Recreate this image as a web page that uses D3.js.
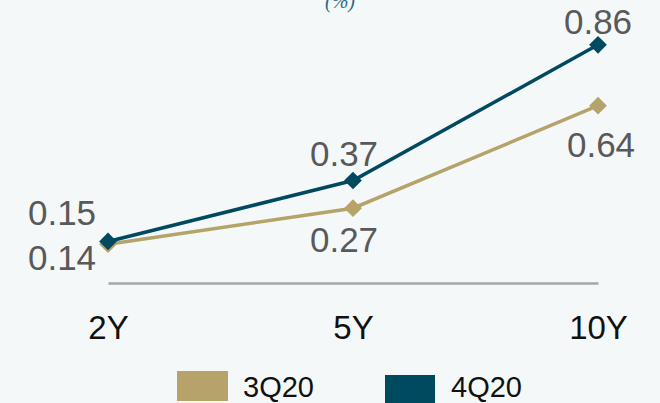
<!DOCTYPE html>
<html>
<head>
<meta charset="utf-8">
<script src="https://cdn.jsdelivr.net/npm/d3@7"></script>
<style>
  html, body { margin: 0; padding: 0; background: #f4f8f9; }
  svg { display: block; font-family: "Liberation Sans", Arial, sans-serif; }
</style>
</head>
<body>
<script>
// data
var categories = ["2Y", "5Y", "10Y"];
var seriesNames = ["3Q20", "4Q20"];
var values3Q20 = [0.14, 0.27, 0.64];
var values4Q20 = [0.15, 0.37, 0.86];
var colors = ["#b5a36a", "#004a60"];

var W = 660, H = 403;

var svg = d3.select("body")
    .append("svg")
    .attr("width", W)
    .attr("height", H);

svg.append("rect").attr("width", W).attr("height", H).attr("fill", "#f4f8f9");

var x = d3.scalePoint().domain(categories).range([108, 598]);
var y = d3.scaleLinear().domain([0, 1]).range([283, 6]);

// title (cut at top, as in the original)
svg.append("text")
  .text("(%)")
  .attr("x", 340).attr("y", 8)
  .attr("text-anchor", "middle")
  .style("font-family", "'Liberation Serif', serif")
  .style("font-style", "italic")
  .style("font-size", "20px")
  .style("fill", "#2b6b82");

// axis
var xAxis = svg.append("g")
  .attr("transform", "translate(0," + y(0) + ")")
  .call(d3.axisBottom(x).tickSize(0).tickPadding(33));
xAxis.select(".domain").attr("stroke", "#a6a6a6").attr("stroke-width", 2.5);
xAxis.selectAll("text")
  .style("font-size", "33px")
  .style("font-family", "'Liberation Sans', Arial, sans-serif")
  .style("fill", "#111");

var series = [values3Q20, values4Q20];
var line = d3.line().x(function (d, i) { return x(categories[i]); }).y(function (d) { return y(d); });
var diamond = d3.symbol().type(d3.symbolDiamond2).size(200);

series.forEach(function (vals, s) {
  svg.append("path")
    .datum(vals)
    .attr("d", line)
    .attr("fill", "none")
    .attr("stroke", colors[s])
    .attr("stroke-width", 3.5);

  svg.selectAll(".m" + s)
    .data(vals)
    .enter()
    .append("path")
    .attr("class", "m" + s)
    .attr("d", diamond)
    .attr("transform", function (d, i) { return "translate(" + x(categories[i]) + "," + y(d) + ")"; })
    .attr("fill", colors[s]);
});

// data labels: dx, dy offsets relative to point
var labelOffsets3Q20 = [[-46, 26], [-9, 44], [3, 51]];
var labelOffsets4Q20 = [[-46, -16], [-9, -15], [0, -11]];
var offsets = [labelOffsets3Q20, labelOffsets4Q20];

series.forEach(function (vals, s) {
  svg.selectAll(".l" + s)
    .data(vals)
    .enter()
    .append("text")
    .attr("class", "l" + s)
    .text(function (d) { return d.toFixed(2); })
    .attr("x", function (d, i) { return x(categories[i]) + offsets[s][i][0]; })
    .attr("y", function (d, i) { return y(d) + offsets[s][i][1]; })
    .attr("text-anchor", "middle")
    .style("font-size", "35px")
    .style("fill", "#595959");
});

// legend
var legend = svg.selectAll(".leg")
  .data(seriesNames)
  .enter()
  .append("g")
  .attr("class", "leg")
  .attr("transform", function (d, i) { return "translate(" + (177 + i * 208) + ",0)"; });

legend.append("rect")
  .attr("x", 0).attr("y", function (d, i) { return i ? 375 : 371; })
  .attr("width", function (d, i) { return i ? 50 : 51; })
  .attr("height", 30)
  .attr("fill", function (d, i) { return colors[i]; });

legend.append("text")
  .text(function (d) { return d; })
  .attr("x", 66).attr("y", 397)
  .style("font-size", "29px")
  .style("fill", "#111");
</script>
</body>
</html>
